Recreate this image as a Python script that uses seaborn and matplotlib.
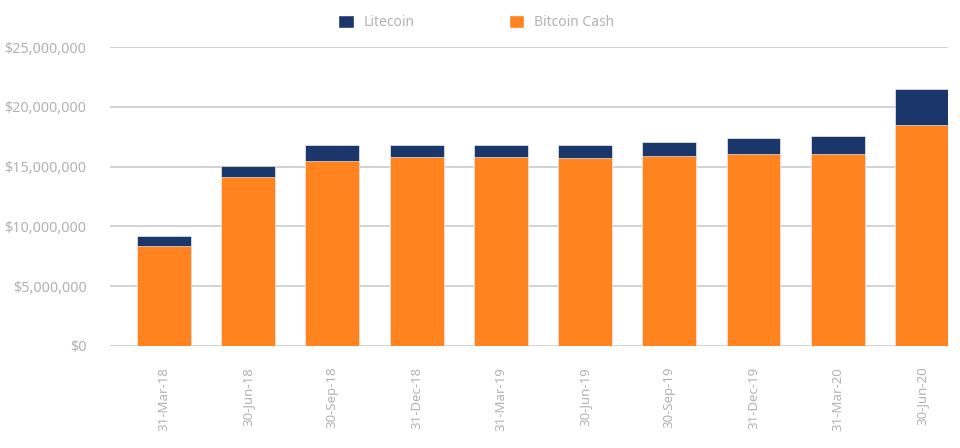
import matplotlib
matplotlib.use("Agg")
import matplotlib.pyplot as plt
import seaborn as sns
import pandas as pd
import numpy as np
from matplotlib.ticker import FuncFormatter
from matplotlib.patches import Patch

dates = ["31-Mar-18", "30-Jun-18", "30-Sep-18", "31-Dec-18", "31-Mar-19",
         "30-Jun-19", "30-Sep-19", "31-Dec-19", "31-Mar-20", "30-Jun-20"]
bitcoin_cash = [8.36e6, 14.1e6, 15.5e6, 15.78e6, 15.78e6, 15.69e6, 15.89e6, 16.05e6, 16.05e6, 18.48e6]
litecoin = [0.84e6, 0.95e6, 1.3e6, 1.02e6, 1.02e6, 1.11e6, 1.14e6, 1.31e6, 1.51e6, 3.01e6]

df = pd.DataFrame({"date": dates, "Bitcoin Cash": bitcoin_cash, "Litecoin": litecoin})
df["total"] = df["Bitcoin Cash"] + df["Litecoin"]

sns.set_style("white")
plt.rcParams['font.family'] = ['Noto Sans', 'DejaVu Sans']

navy = "#1b366b"
orange = "#ff8420"
gray_text = "#b2b2b2"

fig = plt.figure(figsize=(9.6, 4.48), dpi=100)
ax = fig.add_axes([0.1146, 0.2277, 0.8729, 0.6673])

sns.barplot(data=df, x="date", y="total", color=navy, width=0.64, ax=ax,
            saturation=1, edgecolor="white", linewidth=0.4, zorder=3)
sns.barplot(data=df, x="date", y="Bitcoin Cash", color=orange, width=0.64, ax=ax,
            saturation=1, edgecolor="white", linewidth=0.4, zorder=3)

ax.set_ylim(0, 25e6)
ax.set_xlim(-0.64, 9.31)
ax.set_yticks(np.arange(0, 25e6 + 1, 5e6))
ax.yaxis.set_major_formatter(FuncFormatter(lambda v, p: f"${v:,.0f}"))
ax.grid(axis="y", color="#d2d2d2", linewidth=1.4, zorder=0)
ax.set_axisbelow(True)
for s in ax.spines.values():
    s.set_visible(False)
ax.set_xlabel("")
ax.set_ylabel("")
ax.tick_params(axis="y", colors=gray_text, labelsize=10.3, length=0, pad=17)
ax.tick_params(axis="x", colors=gray_text, labelsize=9.5, length=0, pad=15, labelrotation=90)
for lab in ax.get_yticklabels() + ax.get_xticklabels():
    lab.set_color(gray_text)

handles = [Patch(facecolor=navy, label="Litecoin"), Patch(facecolor=orange, label="Bitcoin Cash")]
leg = fig.legend(handles=handles, loc="center", bbox_to_anchor=(0.496, 0.95), ncol=2,
                 frameon=False, fontsize=10, handlelength=1.1, handleheight=1.1,
                 columnspacing=6.8, handletextpad=0.7)
for t in leg.get_texts():
    t.set_color(gray_text)

fig.savefig("out.png", dpi=100)
